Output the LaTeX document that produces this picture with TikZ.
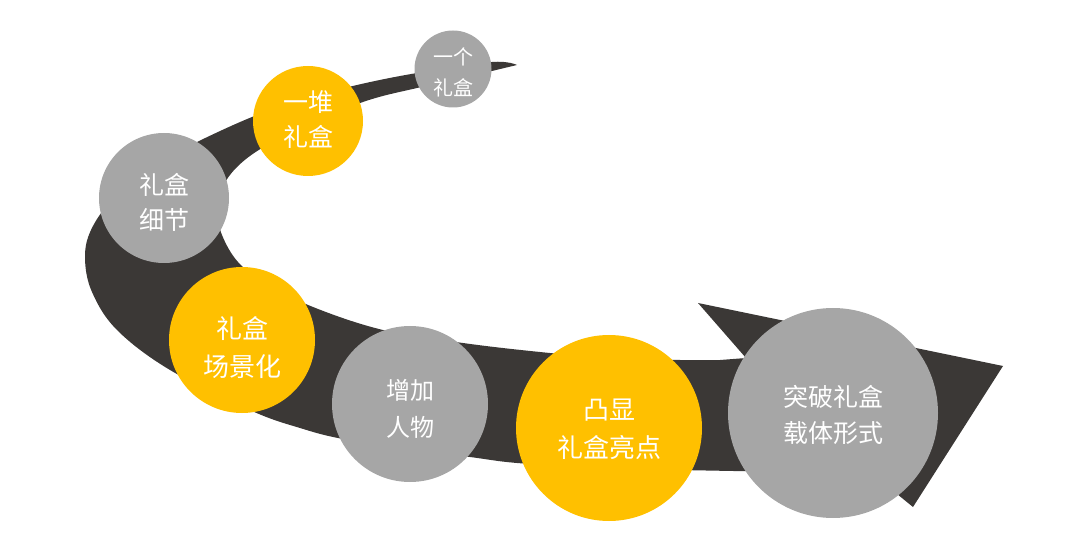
\documentclass[tikz,border=0pt]{standalone}
\usepackage{fontspec}
\newfontfamily\cjk{Noto Sans CJK SC}
\definecolor{bandc}{HTML}{3B3836}
\definecolor{greyc}{HTML}{A6A6A6}
\definecolor{yellowc}{HTML}{FFC000}
\begin{document}
\begin{tikzpicture}[x=1pt,y=-1pt,
  disc/.style={circle,inner sep=0pt,draw=none},
  gdisc/.style={disc,fill=greyc},
  ydisc/.style={disc,fill=yellowc},
  lbl/.style={text=white,align=center,inner sep=0pt},
  band/.style={fill=bandc}]
\useasboundingbox (0,0) rectangle (1080,548);
% spiral band with arrow head
\fill[band] plot[smooth, tension=0.6] coordinates {(517,65) (492,62) (417,73) (357,85) (300,100) (252,117) (197,142) (150,167) (112,200) (91,230) (85,258) (92,292) (117,330) (170,370) (252,411) (300,428) (343,439) (420,451) (470,457) (517,463) (600,468) (680,470) (800,472) (870,472)}
  -- (913,507) -- (1003,366) -- (698,303) -- (746,358)
  -- plot[smooth, tension=0.6] coordinates {(720,360) (680,360) (600,357) (540,352) (463,343) (383,330) (313,307) (265,283) (238,262) (222,235) (217,210) (222,188) (237,167) (262,148) (300,129) (363,102) (417,88) (460,79) (492,71) (517,65)} -- cycle;
% circles
\node[gdisc,minimum size=77] (c1) at (453,69) {};
\node[ydisc,minimum size=110] (c2) at (308,121) {};
\node[gdisc,minimum size=130] (c3) at (164,198) {};
\node[ydisc,minimum size=146] (c4) at (242,340) {};
\node[gdisc,minimum size=156] (c5) at (410,404) {};
\node[ydisc,minimum size=186] (c6) at (609,428) {};
\node[gdisc,minimum size=210] (c7) at (833,413) {};
% labels
\node[lbl,font=\cjk\fontsize{20}{31}\selectfont] (t1) at ([yshift=-3.5]c1.center) {一个\\礼盒};
\node[lbl,font=\cjk\fontsize{25}{35}\selectfont] (t2) at ([yshift=1.5]c2.center) {一堆\\礼盒};
\node[lbl,font=\cjk\fontsize{25}{35}\selectfont] (t3) at ([yshift=-4.5]c3.center) {礼盒\\细节};
\node[lbl,font=\cjk\fontsize{26}{38}\selectfont] (t4) at ([yshift=-8]c4.center) {礼盒\\场景化};
\node[lbl,font=\cjk\fontsize{24}{37}\selectfont] (t5) at ([yshift=-4.5]c5.center) {增加\\人物};
\node[lbl,font=\cjk\fontsize{26}{38}\selectfont] (t6) at ([yshift=-1]c6.center) {凸显\\礼盒亮点};
\node[lbl,font=\cjk\fontsize{25}{36}\selectfont] (t7) at ([yshift=-2]c7.center) {突破礼盒\\载体形式};
\end{tikzpicture}
\end{document}
